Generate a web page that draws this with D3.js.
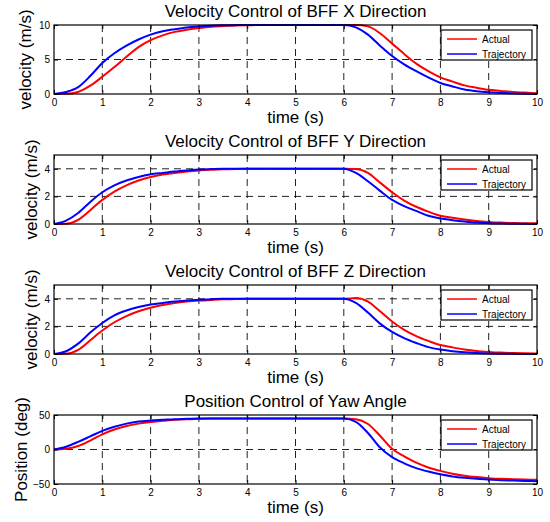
<!DOCTYPE html>
<html>
<head>
<meta charset="utf-8">
<script src="https://cdn.jsdelivr.net/npm/d3@7/dist/d3.min.js"></script>
<style>
  html, body { margin: 0; padding: 0; background: #fff; }
  svg { display: block; }
  text { font-family: "Liberation Sans", Arial, Helvetica, sans-serif; fill: #000; }
</style>
</head>
<body>
<svg id="chart" width="550" height="522"></svg>
<script>
// ---------------- DATA ----------------
const time = [0,0.25,0.5,0.75,1,1.25,1.5,1.75,2,2.25,2.5,2.75,3,3.25,3.5,3.75,4,4.25,4.5,4.75,5,5.25,5.5,5.75,6,6.25,6.5,6.75,7,7.25,7.5,7.75,8,8.25,8.5,8.75,9,9.25,9.5,9.75,10];

const xTrajectory = [0,0.3,1.0,2.6,4.5,5.9,7.0,7.9,8.6,9.1,9.4,9.65,9.8,9.9,9.95,9.98,10,10,10,10,10,10,10,10,10,9.65,8.6,7.0,5.5,4.3,3.3,2.4,1.6,1.1,0.65,0.4,0.25,0.15,0.08,0.03,0];
const xActual     = [0,0.02,0.3,1.2,2.5,3.9,5.4,6.8,7.8,8.5,9.0,9.3,9.55,9.75,9.85,9.93,9.97,10,10,10,10,10,10,10,10,10,9.8,8.8,7.3,5.8,4.4,3.3,2.4,1.8,1.25,0.9,0.6,0.45,0.3,0.2,0.1];

const yTrajectory = [0,0.25,0.8,1.6,2.3,2.8,3.15,3.4,3.6,3.7,3.8,3.88,3.95,3.98,4,4,4,4,4,4,4,4,4,4,4,3.7,3.1,2.4,1.75,1.3,0.95,0.6,0.4,0.28,0.18,0.1,0.06,0.03,0.02,0.01,0];
const yActual     = [0,0.02,0.3,1.0,1.75,2.35,2.8,3.15,3.4,3.58,3.7,3.8,3.88,3.93,3.97,3.99,4,4,4,4,4,4,4,4,4,3.98,3.7,3.0,2.3,1.7,1.25,0.9,0.6,0.45,0.32,0.22,0.15,0.1,0.07,0.05,0.05];

const zTrajectory = [0,0.2,0.75,1.55,2.25,2.8,3.15,3.4,3.58,3.7,3.8,3.87,3.93,3.97,4,4,4,4,4,4,4,4,4,4,4,3.7,3.0,2.2,1.6,1.15,0.8,0.5,0.32,0.2,0.12,0.07,0.04,0.02,0.01,0,0];
const zActual     = [0,0.02,0.3,1.0,1.7,2.3,2.75,3.1,3.35,3.55,3.7,3.8,3.87,3.92,3.96,3.98,4,4,4,4,4,4,4,4,4,4.05,3.8,3.1,2.35,1.75,1.3,0.95,0.65,0.48,0.33,0.22,0.15,0.1,0.07,0.05,0.04];

const yawTrajectory = [0,4,11,19,27,33,37.5,40.5,42,43,44,44.5,45,45,45,45,45,45,45,45,45,45,45,45,45,40,24,3,-11,-20,-27,-32,-36,-39,-41,-42.5,-43.5,-44.5,-45,-45.5,-46];
const yawActual     = [0,1,5,13,22,29,34,37.5,40,41.5,43,44,44.5,45,45,45,45,45,45,45,45,45,45,45,45,44,37,20,1,-10,-19,-26,-31,-35,-38,-40,-41.5,-42.5,-43,-43.5,-44];

const titles  = ["Velocity Control of BFF X Direction", "Velocity Control of BFF Y Direction", "Velocity Control of BFF Z Direction", "Position Control of Yaw Angle"];
const yLabels = ["velocity (m/s)", "velocity (m/s)", "velocity (m/s)", "Position (deg)"];
const yDomains = [[0,10],[0,5],[0,5],[-50,50]];
const yTicks  = [[0,5,10],[0,2,4],[0,2,4],[-50,0,50]];
const xTicks  = [0,1,2,3,4,5,6,7,8,9,10];
const xLabel  = "time (s)";
const legendLabels = ["Actual", "Trajectory"];
const actualSeries = [xActual, yActual, zActual, yawActual];
const trajSeries   = [xTrajectory, yTrajectory, zTrajectory, yawTrajectory];

// ---------------- LAYOUT ----------------
const svg = d3.select("#chart");
const left = 54, right = 537;
const tops = [25, 155, 285, 415];
const ph = 69;
const yLabelX = [31, 37, 37, 27];
const colors = {actual: "#ff0000", traj: "#0000ff"};

const x = d3.scaleLinear().domain([0, 10]).range([left, right]);

tops.forEach((top, i) => {
  const bottom = top + ph;
  const y = d3.scaleLinear().domain(yDomains[i]).range([bottom, top]);
  const g = svg.append("g");

  // grid
  const grid = g.append("g").attr("stroke", "#222").attr("stroke-width", 1).attr("stroke-dasharray", "7,5");
  xTicks.slice(1, -1).forEach(t => {
    grid.append("line").attr("x1", x(t)).attr("x2", x(t)).attr("y1", top).attr("y2", bottom);
  });
  yTicks[i].forEach(t => {
    if (y(t) > top + 0.5 && y(t) < bottom - 0.5)
      grid.append("line").attr("x1", left).attr("x2", right).attr("y1", y(t)).attr("y2", y(t));
  });

  // lines
  const line = d3.line().x((d, k) => x(time[k])).y(d => y(d)).curve(d3.curveMonotoneX);
  g.append("path").datum(actualSeries[i]).attr("d", line)
    .attr("fill", "none").attr("stroke", colors.actual).attr("stroke-width", 2);
  g.append("path").datum(trajSeries[i]).attr("d", line)
    .attr("fill", "none").attr("stroke", colors.traj).attr("stroke-width", 2);

  // axes
  const ax = d3.axisBottom(x).tickValues(xTicks).tickSize(-4).tickPadding(5).tickFormat(d3.format("d"));
  const axG = g.append("g").attr("transform", `translate(0,${bottom})`).call(ax);
  const axT = g.append("g").attr("transform", `translate(0,${top})`).call(d3.axisTop(x).tickValues(xTicks).tickSize(-4).tickFormat(""));
  const ay = d3.axisLeft(y).tickValues(yTicks[i]).tickSize(-4).tickPadding(4).tickFormat(d3.format("d"));
  const ayG = g.append("g").attr("transform", `translate(${left},0)`).call(ay);
  const ayR = g.append("g").attr("transform", `translate(${right},0)`).call(d3.axisRight(y).tickValues(yTicks[i]).tickSize(-4).tickFormat(""));
  [axG, axT, ayG, ayR].forEach(a => {
    a.select(".domain").remove();
    a.selectAll("line").attr("stroke", "#000");
    a.selectAll("text").style("font-size", "10px").attr("fill", "#000")
      .style("font-family", '"Liberation Sans", Arial, sans-serif');
  });

  // box
  g.append("rect").attr("x", left).attr("y", top).attr("width", right - left).attr("height", ph)
    .attr("fill", "none").attr("stroke", "#000").attr("stroke-width", 1.2);

  // title
  g.append("text").attr("x", (left + right) / 2).attr("y", top - 8)
    .attr("text-anchor", "middle").style("font-size", "17px").text(titles[i]);
  // x label
  g.append("text").attr("x", (left + right) / 2).attr("y", bottom + 29)
    .attr("text-anchor", "middle").style("font-size", "17px").text(xLabel);
  // y label
  g.append("text").attr("transform", `translate(${yLabelX[i]},${(top + bottom) / 2}) rotate(-90)`)
    .attr("text-anchor", "middle").style("font-size", "17px").text(yLabels[i]);

  // legend
  const lg = g.append("g").attr("transform", `translate(441,${top + 5})`);
  lg.append("rect").attr("width", 91).attr("height", 30).attr("fill", "#fff")
    .attr("stroke", "#000").attr("stroke-width", 1.2);
  [colors.actual, colors.traj].forEach((c, k) => {
    const yy = 9 + k * 15;
    lg.append("line").attr("x1", 6).attr("x2", 36).attr("y1", yy).attr("y2", yy)
      .attr("stroke", c).attr("stroke-width", 1.5);
    lg.append("text").attr("x", 41).attr("y", yy + 3.5).style("font-size", "10px").text(legendLabels[k]);
  });
});
</script>
</body>
</html>
